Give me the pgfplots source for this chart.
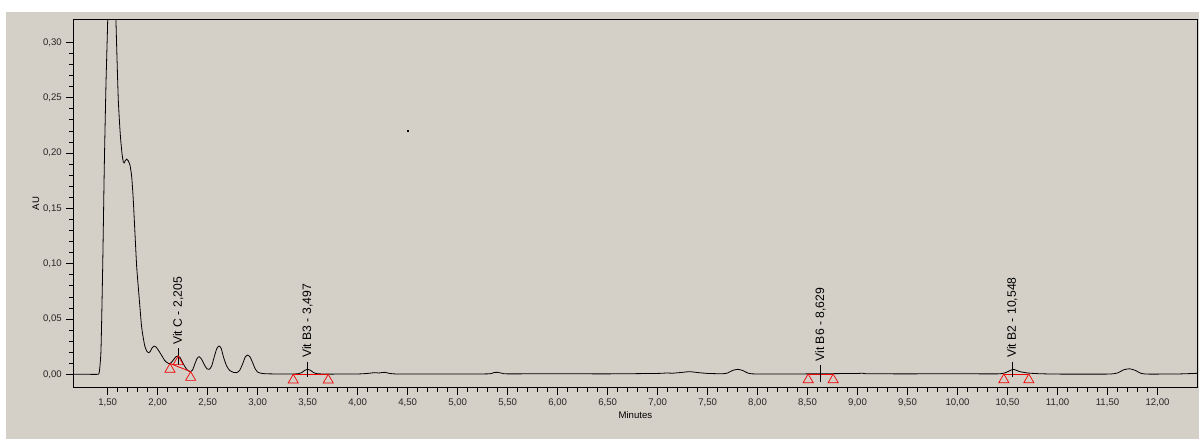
\documentclass[border=0pt]{standalone}
\usepackage{fontspec}
\setmainfont{Liberation Sans}
\usepackage{pgfplots}
\pgfplotsset{compat=1.18}
\definecolor{panel}{RGB}{212,208,200}
\definecolor{pkred}{RGB}{240,0,0}
\begin{document}
\begin{tikzpicture}[x=1pt,y=1pt]
\useasboundingbox (0,0) rectangle (1199,439);
\fill[white] (0,0) rectangle (1199,439);
\fill[panel] (6,0) rectangle (1199,427);
\begin{axis}[
  at={(73.3pt,51.3pt)}, anchor=south west,
  scale only axis, width=1124.2pt, height=368.4pt,
  xmin=1.156, xmax=12.40, ymin=-0.0121, ymax=0.3208,
  axis background/.style={fill=panel},
  axis line style={black, line width=0.9pt},
  tick pos=left, tick align=outside,
  xtick={1.5,2,...,12}, minor x tick num=4,
  ytick={0,0.05,...,0.31}, minor y tick num=4,
  major tick length=7pt, minor tick length=4pt,
  every tick/.style={black, line width=0.6pt},
  /pgf/number format/assume math mode=true,
  /pgf/number format/.cd, fixed, fixed zerofill, precision=2, use comma,
  /pgfplots/.cd,
  tick label style={font=\fontsize{9.6}{10}\selectfont, text=black!85},
  xticklabel style={yshift=-1pt},
  yticklabel style={xshift=-1pt},
  scaled y ticks=false,
  xlabel={Minutes}, ylabel={AU},
  label style={font=\fontsize{9.6}{10}\selectfont},
  xlabel style={at={(axis description cs:0.5,-0.0733)}, anchor=center},
  ylabel style={at={(axis description cs:-0.0332,0.5)}, anchor=center},
  clip=true,
]
% chromatogram trace
\addplot[black, line width=0.8pt, smooth, tension=0.35] coordinates {
(1.156,0) (1.30,0) (1.40,0) (1.416,0.002) (1.433,0.022) (1.45,0.097)
(1.466,0.1876) (1.483,0.263) (1.50,0.32) (1.515,0.40) (1.53,0.45)
(1.545,0.47) (1.56,0.45) (1.575,0.39) (1.583,0.32) (1.595,0.28)
(1.606,0.248) (1.62,0.225) (1.63,0.212) (1.645,0.198) (1.656,0.192)
(1.665,0.191) (1.675,0.193) (1.69,0.1945) (1.705,0.193) (1.723,0.189)
(1.74,0.1786) (1.756,0.1575) (1.773,0.127) (1.79,0.097) (1.805,0.08)
(1.823,0.060) (1.837,0.045) (1.85,0.036) (1.87,0.026) (1.89,0.021)
(1.91,0.0195) (1.925,0.0205) (1.945,0.024) (1.966,0.0255) (1.985,0.0245)
(2.005,0.022) (2.023,0.0195) (2.05,0.0155) (2.07,0.0125) (2.09,0.0108)
(2.11,0.0098) (2.125,0.0098) (2.145,0.0115) (2.165,0.014) (2.185,0.016)
(2.205,0.0166) (2.225,0.0150) (2.25,0.0105) (2.275,0.0065) (2.30,0.0035)
(2.33,0.0024) (2.35,0.004) (2.37,0.009) (2.395,0.0145) (2.416,0.0159)
(2.44,0.0135) (2.47,0.008) (2.495,0.0048) (2.516,0.0045) (2.54,0.0075)
(2.565,0.0155) (2.59,0.023) (2.613,0.0256) (2.635,0.0235) (2.66,0.015)
(2.69,0.0075) (2.72,0.0035) (2.76,0.0017) (2.79,0.0015) (2.82,0.0035)
(2.85,0.0095) (2.875,0.0155) (2.90,0.0174) (2.925,0.0155) (2.95,0.0105)
(2.975,0.005) (3.00,0.002) (3.03,0.001) (3.08,0.0005) (3.20,0.0003)
(3.35,0.0003) (3.40,0.0005) (3.44,0.0015) (3.47,0.0035) (3.50,0.0045)
(3.53,0.0035) (3.56,0.0015) (3.60,0.0005) (3.70,0.0002) (3.80,0.0002)
(4.00,0.0003) (4.10,0.0008) (4.17,0.0015) (4.21,0.0012) (4.27,0.0018)
(4.32,0.0008) (4.40,0.0003) (4.80,0.0003) (5.30,0.0004) (5.36,0.0015)
(5.40,0.0018) (5.45,0.0008) (5.50,0.0004) (6.00,0.0005) (6.50,0.0004)
(7.00,0.0008) (7.09,0.0012) (7.15,0.0010) (7.25,0.0018) (7.32,0.0024)
(7.40,0.0016) (7.50,0.0008) (7.65,0.0005) (7.70,0.0012) (7.75,0.0035)
(7.80,0.0045) (7.85,0.0035) (7.90,0.0012) (7.95,0.0004) (8.10,0.0003)
(8.60,0.0004) (8.65,0.0005) (9.00,0.0008) (9.05,0.0010) (9.10,0.0005)
(9.50,0.0004) (10.00,0.0005) (10.40,0.0004) (10.48,0.0015) (10.556,0.0045)
(10.62,0.0025) (10.70,0.0012) (10.80,0.0006) (11.00,0.0002) (11.50,0.0002)
(11.60,0.0012) (11.66,0.0040) (11.72,0.0050) (11.78,0.0035) (11.83,0.0010)
(11.90,0.0002) (12.20,0.0003) (12.40,0.0009)
};
% integration baselines
\addplot[pkred, line width=0.8pt] coordinates {(2.123,0.0098) (2.33,0.0024)};
\addplot[pkred, line width=0.8pt] coordinates {(3.356,0.0) (3.706,0.0)};
\addplot[pkred, line width=0.8pt] coordinates {(8.506,0.0003) (8.756,0.0003)};
\addplot[pkred, line width=0.8pt] coordinates {(10.463,0.0003) (10.713,0.0003)};
% integration markers
\addplot[only marks, mark=triangle, mark size=5.8pt, pkred,
  mark options={line width=0.7pt, yshift=-5.8pt}] coordinates {
(2.123,0.0098) (2.205,0.0166) (2.33,0.0024)
(3.356,0.0) (3.706,0.0)
(8.506,0.0003) (8.756,0.0003)
(10.463,0.0003) (10.713,0.0003)
};
% apex ticks
\addplot[black, line width=0.7pt] coordinates {(2.205,0.0235) (2.205,0.0085)};
\addplot[black, line width=0.7pt] coordinates {(3.497,0.0114) (3.497,-0.0022)};
\addplot[black, line width=0.7pt] coordinates {(8.629,0.0084) (8.629,-0.0067)};
\addplot[black, line width=0.7pt] coordinates {(10.548,0.0114) (10.548,-0.0027)};
% stray point
\addplot[only marks, mark=square*, mark size=0.5pt, black] coordinates {(4.503,0.2198)};
% peak labels
\begin{scope}[every node/.style={rotate=90, anchor=west, inner sep=0pt, font=\fontsize{12.2}{13}\selectfont}]
\node at (axis cs:2.205,0.0265) {Vit C - 2,205};
\node at (axis cs:3.497,0.0148) {Vit B3 - 3,497};
\node at (axis cs:8.629,0.0114) {Vit B6 - 8,629};
\node at (axis cs:10.548,0.0147) {Vit B2 - 10,548};
\end{scope}
\end{axis}
\end{tikzpicture}
\end{document}
